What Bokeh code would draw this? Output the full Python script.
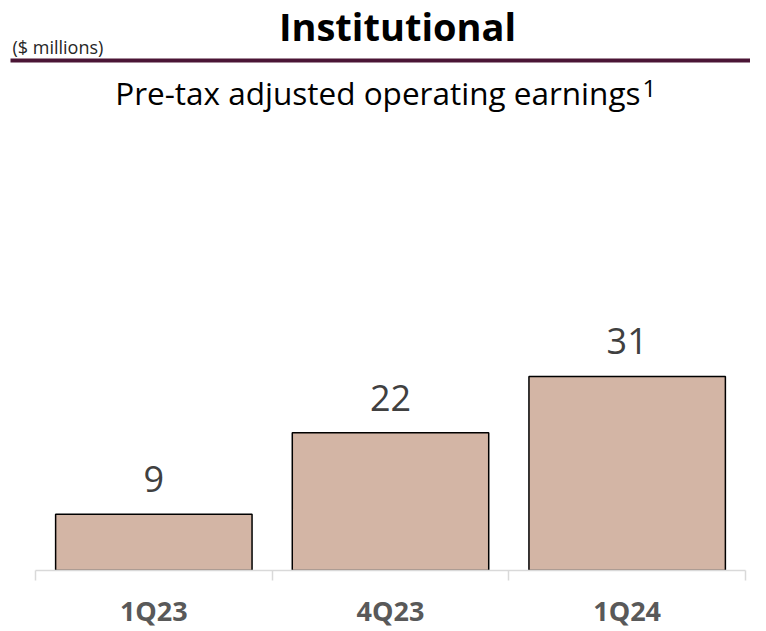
from bokeh.plotting import figure
from bokeh.models import Range1d, FixedTicker, LabelSet, ColumnDataSource
from bokeh.core.properties import value
from bokeh.embed import file_html
from bokeh.resources import INLINE

categories = ["1Q23", "4Q23", "1Q24"]
values = [9, 22, 31]

title_text = "Institutional"
units_text = "($ millions)"
subtitle_text = "Pre-tax adjusted operating earnings"
footnote_mark = "1"

FONT = "Open Sans"
W = 750            # canvas / frame width
AXIS_Y = 570       # pixel row of the category axis
CAT_L, CAT_R = 35, 745   # pixel extent of the category axis
PX_PER_UNIT = 6.26

n = len(categories)
ppu_x = (CAT_R - CAT_L) / n
x_start = -CAT_L / ppu_x
x_end = n + (W - CAT_R) / ppu_x

p = figure(frame_width=W, frame_height=AXIS_Y, output_backend="svg", toolbar_location=None,
           x_range=Range1d(x_start, x_end), y_range=Range1d(0, AXIS_Y / PX_PER_UNIT),
           min_border_left=0, min_border_right=0, min_border_top=0, min_border_bottom=0,
           title=None)
p.outline_line_color = None
p.xgrid.visible = False
p.ygrid.visible = False
p.yaxis.visible = False
p.background_fill_color = "white"
p.border_fill_color = "white"

# pixel ranges for the header block
p.extra_x_ranges = {"px": Range1d(0, W)}
p.extra_y_ranges = {"py": Range1d(AXIS_Y, 0)}

xs = [i + 0.5 for i in range(n)]
src = ColumnDataSource(dict(x=xs, top=values, lab=[str(v) for v in values]))
p.vbar(x="x", top="top", width=0.83, bottom=0, source=src,
       fill_color="#d3b5a5", line_color="black", line_width=1.5)

ax = p.xaxis[0]
ax.bounds = (0, n)
ax.ticker = FixedTicker(ticks=xs, minor_ticks=list(range(n + 1)))
ax.major_label_overrides = {x: c for x, c in zip(xs, categories)}
ax.major_tick_line_color = None
ax.major_tick_out = 0
ax.major_tick_in = 0
ax.minor_tick_in = 0
ax.minor_tick_out = 10
ax.minor_tick_line_color = "#d9d9d9"
ax.minor_tick_line_width = 1.5
ax.axis_line_color = "#d9d9d9"
ax.axis_line_width = 1.5
ax.major_label_text_font = FONT
ax.major_label_text_font_style = "bold"
ax.major_label_text_font_size = "27px"
ax.major_label_text_color = "#595959"
ax.major_label_standoff = 11

labels = LabelSet(x="x", y="top", text="lab", source=src, text_align="center",
                  text_baseline="alphabetic", y_offset=22, text_font=value(FONT),
                  text_font_size="36px", text_color="#404040")
p.add_layout(labels)

hdr = dict(x_range_name="px", y_range_name="py")
p.text(x=[397], y=[25], text=[title_text], text_align="center", text_baseline="middle",
       text_font=value(FONT), text_font_style="bold", text_font_size="38px",
       text_color="black", **hdr)
p.text(x=[12], y=[46], text=[units_text], text_align="left", text_baseline="middle",
       text_font=value(FONT), text_font_size="18px", text_color="#262626", **hdr)
p.quad(left=[10], right=[W], top=[58], bottom=[62], fill_color="#4b1535",
       line_color=None, **hdr)
p.text(x=[640], y=[92], text=[subtitle_text], text_align="right", text_baseline="middle",
       text_font=value(FONT), text_font_size="31.5px", text_color="black", **hdr)
p.text(x=[642], y=[88], text=[footnote_mark], text_align="left", text_baseline="middle",
       text_font=value(FONT), text_font_size="24px", text_color="black", **hdr)

open("out.html", "w").write(file_html(p, INLINE))
